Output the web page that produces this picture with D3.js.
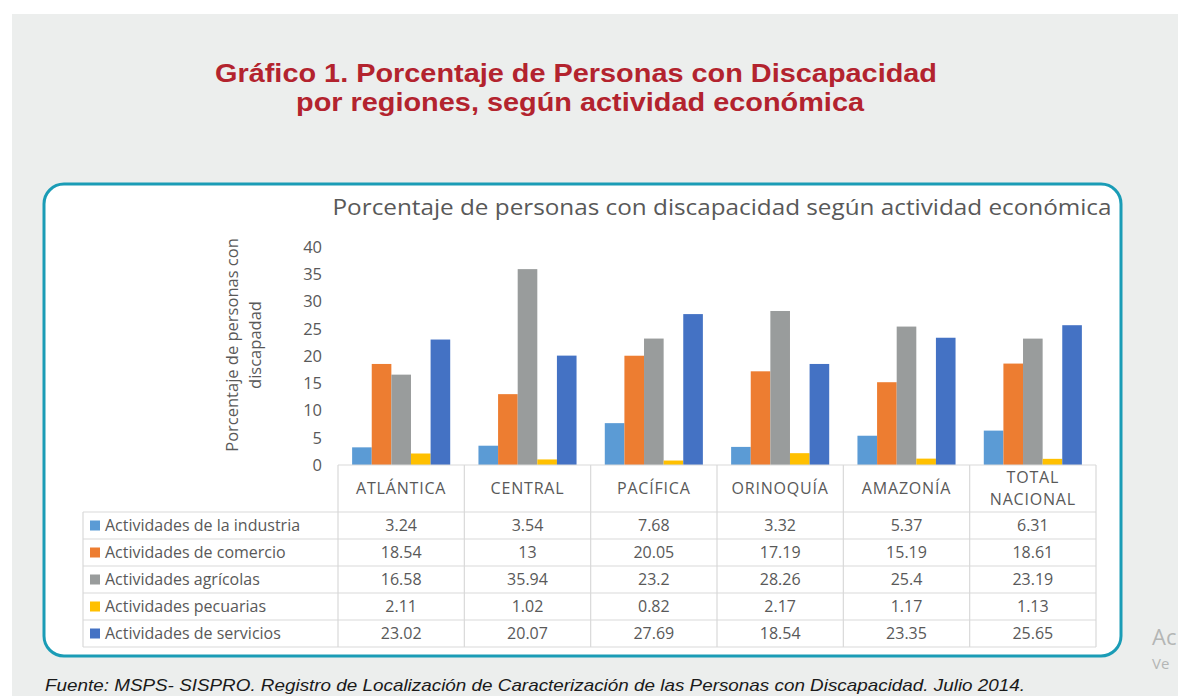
<!DOCTYPE html>
<meta charset="utf-8">
<script src="https://d3js.org/d3.v7.min.js"></script>
<style>
  body { margin: 0; background: #fff; }
  svg { display: block; }
</style>
<body>
<div id="chart"></div>
<script>
// categorias y series
var regiones = ["ATLÁNTICA", "CENTRAL", "PACÍFICA", "ORINOQUÍA", "AMAZONÍA", "TOTAL NACIONAL"];
var series = ["Actividades de la industria", "Actividades de comercio", "Actividades agrícolas",
              "Actividades pecuarias", "Actividades de servicios"];
var colores = ["#5b9bd5", "#ed7d31", "#999c9c", "#ffc000", "#4472c4"];

var industria = [3.24, 3.54, 7.68, 3.32, 5.37, 6.31];
var comercio  = [18.54, 13, 20.05, 17.19, 15.19, 18.61];
var agricolas = [16.58, 35.94, 23.2, 28.26, 25.4, 23.19];
var pecuarias = [2.11, 1.02, 0.82, 2.17, 1.17, 1.13];
var servicios = [23.02, 20.07, 27.69, 18.54, 23.35, 25.65];
var yTicks = [0, 5, 10, 15, 20, 25, 30, 35, 40];

var valores = [industria, comercio, agricolas, pecuarias, servicios];

var W = 1178, H = 696;
var txt = "#595959";
var grid = "#d9d9d9";

var svg = d3.select("#chart").append("svg")
  .attr("width", W).attr("height", H);

// fondo gris de la pagina
svg.append("rect").attr("x", 12).attr("y", 14).attr("width", W - 12).attr("height", H - 14)
  .attr("fill", "#eceeed");

// titulo rojo
var t = svg.append("text")
  .attr("text-anchor", "middle")
  .style("font", "bold 26px 'Liberation Sans', Arial, sans-serif")
  .attr("fill", "#b3232e");
t.append("tspan").attr("x", 576).attr("y", 82)
  .attr("textLength", 722).attr("lengthAdjust", "spacingAndGlyphs")
  .text("Gráfico 1. Porcentaje de Personas con Discapacidad");
t.append("tspan").attr("x", 580).attr("y", 111)
  .attr("textLength", 568).attr("lengthAdjust", "spacingAndGlyphs")
  .text("por regiones, según actividad económica");

// caja redondeada
svg.append("rect")
  .attr("x", 44).attr("y", 184).attr("width", 1077).attr("height", 472)
  .attr("rx", 20).attr("ry", 20)
  .attr("fill", "#fff").attr("stroke", "#1a9cb6").attr("stroke-width", 3);

// titulo del grafico
svg.append("text")
  .attr("x", 722).attr("y", 215)
  .attr("text-anchor", "middle")
  .attr("textLength", 779).attr("lengthAdjust", "spacingAndGlyphs")
  .style("font", "21.5px 'Open Sans', sans-serif")
  .attr("fill", txt)
  .text("Porcentaje de personas con discapacidad según actividad económica");

var x0 = d3.scaleBand().domain(regiones).range([338, 1096]);
var x1 = d3.scaleBand().domain(series).range([0, x0.bandwidth()])
  .paddingInner(0).paddingOuter(0.72);
var y = d3.scaleLinear().domain([0, 40]).range([465, 247]);

// eje y
var yAxis = svg.append("g")
  .attr("transform", "translate(338,0)")
  .call(d3.axisLeft(y).tickValues(yTicks).tickSize(0).tickPadding(16));
yAxis.select(".domain").remove();
yAxis.selectAll("text")
  .style("font", "16.5px 'Open Sans', sans-serif")
  .attr("fill", txt);

// titulo eje y
var yt = svg.append("text")
  .attr("transform", "translate(238,345) rotate(-90)")
  .attr("text-anchor", "middle")
  .style("font", "16.5px 'Open Sans', sans-serif")
  .attr("fill", txt);
yt.append("tspan").attr("x", 0).attr("y", 0).text("Porcentaje de personas con");
yt.append("tspan").attr("x", 0).attr("y", 23).text("discapadad");

// barras
var grupos = svg.selectAll("g.grupo")
  .data(regiones)
  .join("g")
  .attr("class", "grupo")
  .attr("transform", function(d) { return "translate(" + x0(d) + ",0)"; });

grupos.selectAll("rect")
  .data(function(d, i) { return series.map(function(s, j) { return { s: s, v: valores[j][i], c: colores[j] }; }); })
  .join("rect")
  .attr("x", function(d) { return x1(d.s); })
  .attr("y", function(d) { return y(d.v); })
  .attr("width", x1.bandwidth())
  .attr("height", function(d) { return y(0) - y(d.v); })
  .attr("fill", function(d) { return d.c; });

// tabla de datos
var top0 = 465, headH = 47, rowH = 27, left0 = 83;
var rowsY = series.map(function(s, i) { return top0 + headH + i * rowH; });
var bottom = top0 + headH + series.length * rowH;
var tg = svg.append("g").attr("stroke", grid).attr("stroke-width", 1.2).attr("fill", "none");

// lineas horizontales
tg.append("line").attr("x1", 338).attr("x2", 1096).attr("y1", top0).attr("y2", top0);
rowsY.concat([bottom]).forEach(function(yy) {
  tg.append("line").attr("x1", left0).attr("x2", 1096).attr("y1", yy).attr("y2", yy);
});
// lineas verticales
tg.append("line").attr("x1", left0).attr("x2", left0).attr("y1", rowsY[0]).attr("y2", bottom);
regiones.forEach(function(r) {
  tg.append("line").attr("x1", x0(r)).attr("x2", x0(r)).attr("y1", top0).attr("y2", bottom);
});
tg.append("line").attr("x1", 1096).attr("x2", 1096).attr("y1", top0).attr("y2", bottom);

var fontT = "16px 'Open Sans', sans-serif";

// encabezados
regiones.forEach(function(r) {
  var cx = x0(r) + x0.bandwidth() / 2;
  var parts = r === "TOTAL NACIONAL" ? ["TOTAL", "NACIONAL"] : [r];
  var h = svg.append("text").attr("text-anchor", "middle").style("font", fontT)
    .style("letter-spacing", "0.8px").attr("fill", txt);
  if (parts.length === 1) {
    h.append("tspan").attr("x", cx).attr("y", 494).text(parts[0]);
  } else {
    h.append("tspan").attr("x", cx).attr("y", 483).text(parts[0]);
    h.append("tspan").attr("x", cx).attr("y", 505).text(parts[1]);
  }
});

// filas
series.forEach(function(s, j) {
  var yy = rowsY[j] + rowH / 2;
  svg.append("rect").attr("x", 90).attr("y", yy - 5).attr("width", 10).attr("height", 10)
    .attr("fill", colores[j]);
  svg.append("text").attr("x", 105).attr("y", yy + 5.5)
    .style("font", fontT).attr("fill", txt).text(s);
  regiones.forEach(function(r, i) {
    svg.append("text")
      .attr("x", x0(r) + x0.bandwidth() / 2).attr("y", yy + 5.5)
      .attr("text-anchor", "middle")
      .style("font", fontT).attr("fill", txt)
      .text(valores[j][i]);
  });
});

// fuente
svg.append("text")
  .attr("x", 45).attr("y", 691)
  .attr("textLength", 980).attr("lengthAdjust", "spacingAndGlyphs")
  .style("font", "italic 16.5px 'Liberation Sans', Arial, sans-serif")
  .attr("fill", "#1a1a1a")
  .text("Fuente: MSPS- SISPRO. Registro de Localización de Caracterización de las Personas con Discapacidad. Julio 2014.");

// marca de agua de windows (solo la parte visible)
svg.append("text").attr("x", 1152).attr("y", 645)
  .style("font", "22px 'Open Sans', sans-serif").attr("fill", "#b4b6b5")
  .text("Ac");
svg.append("text").attr("x", 1152).attr("y", 669)
  .style("font", "15px 'Open Sans', sans-serif").attr("fill", "#b4b6b5")
  .text("Ve");
</script>
</body>
